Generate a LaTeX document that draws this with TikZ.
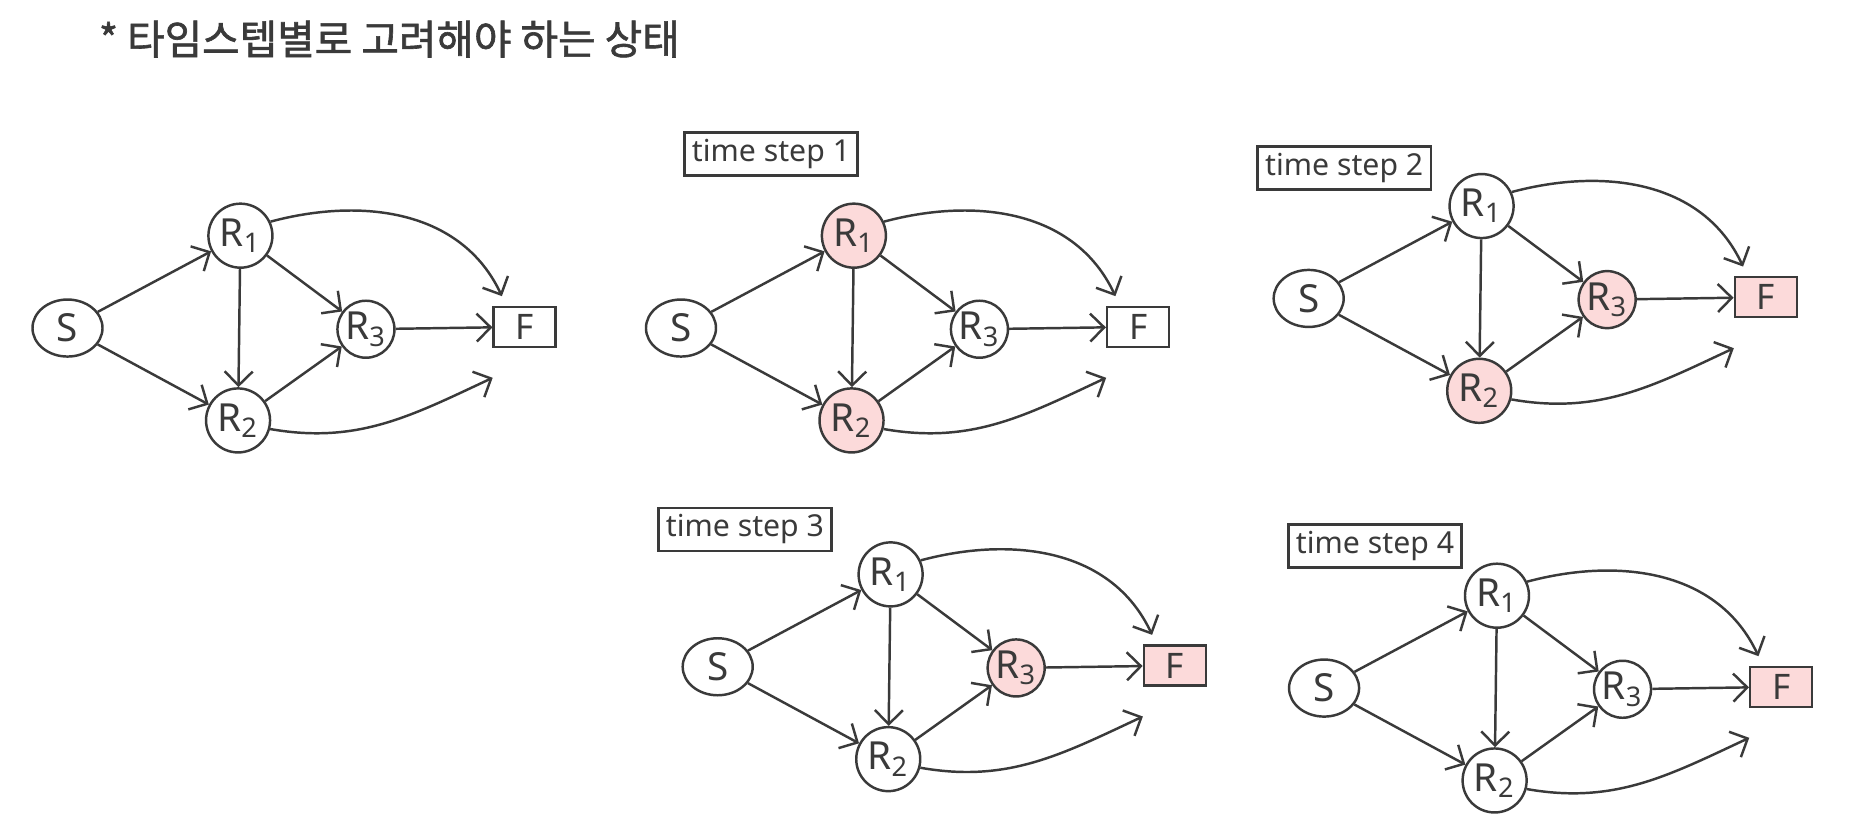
\documentclass[tikz,border=0pt]{standalone}
\usepackage{fontspec}
\setmainfont{Noto Sans}
\newfontfamily\krfont[FakeBold=1.5]{Noto Sans CJK KR}
\usepackage{xcolor}
\usepackage{tikz}
\usetikzlibrary{arrows.meta,positioning,shapes.geometric}

\definecolor{ink}{HTML}{3A3A3A}
\definecolor{hot}{HTML}{FCDADA}

\begin{document}
\begin{tikzpicture}[x=0.01184cm,y=0.01184cm,
  state/.style={draw=ink,circle,minimum size=0.64cm,inner sep=0pt,line width=0.7pt,text=ink,font=\fontsize{11}{11}\selectfont},
  small/.style={state,minimum size=0.57cm},
  src/.style={draw=ink,ellipse,minimum width=0.70cm,minimum height=0.57cm,inner sep=0pt,line width=0.7pt,text=ink,font=\fontsize{11}{11}\selectfont},
  sink/.style={draw=ink,rectangle,minimum width=0.62cm,minimum height=0.40cm,inner sep=0pt,line width=0.7pt,text=ink,font=\fontsize{10}{10}\selectfont},
  tag/.style={draw=ink,rectangle,minimum width=1.73cm,minimum height=0.43cm,inner sep=1pt,line width=0.7pt,text=ink,font=\fontsize{8.6}{9}\selectfont},
  arr/.style={-{Straight Barb[length=1.4mm,width=2.8mm]},line width=0.7pt,ink}
]
\useasboundingbox (0,0) rectangle (1568,697);

% Title
\node[anchor=west,text=ink,inner sep=0pt,font=\krfont\fontsize{11.6}{12}\selectfont] (title) at (83,664) {* 타임스텝별로 고려해야 하는 상태};

% One graph per time step (S position, fills of R1 R2 R3 F)
\foreach \g/\sx/\sy/\fa/\fb/\fc/\ff in {0/57/420/white/white/white/white,
    1/575/420/hot/hot/white/white, 2/1105/445/white/hot/hot/hot,
    3/606/134/white/white/hot/hot, 4/1118/116/white/white/white/hot}{
  \begin{scope}[shift={(\sx,\sy)}]
    \node[src] (g\g-S) at (0,0) {S};
    \node[state,fill=\fa] (g\g-R1) at (146,78) {R\textsubscript{1}};
    \node[state,fill=\fb] (g\g-R2) at (144,-78) {R\textsubscript{2}};
    \node[small,fill=\fc] (g\g-R3) at (252,-1) {R\textsubscript{3}};
    \node[sink,fill=\ff] (g\g-F) at (386,1) {F};
    \coordinate (g\g-end) at (359,-42);
  \end{scope}

  \draw[arr] (g\g-S) -- (g\g-R1);
  \draw[arr] (g\g-S) -- (g\g-R2);
  \draw[arr] (g\g-R1) -- (g\g-R2);
  \draw[arr] (g\g-R1) -- (g\g-R3);
  \draw[arr] (g\g-R2) -- (g\g-R3);
  \draw[arr] (g\g-R3) -- (g\g-F);
  \draw[arr] (g\g-R1.25) to[out=15,in=115] ([shift={(8,8)}]g\g-F.north west);
  \draw[arr] (g\g-R2.-15) to[out=-10,in=205] (g\g-end);
}

% Step labels
\node[tag] (step1) at (651,567) {time step 1};
\node[tag] (step2) at (1135,555) {time step 2};
\node[tag] (step3) at (629,250) {time step 3};
\node[tag] (step4) at (1161,236) {time step 4};

\end{tikzpicture}
\end{document}
